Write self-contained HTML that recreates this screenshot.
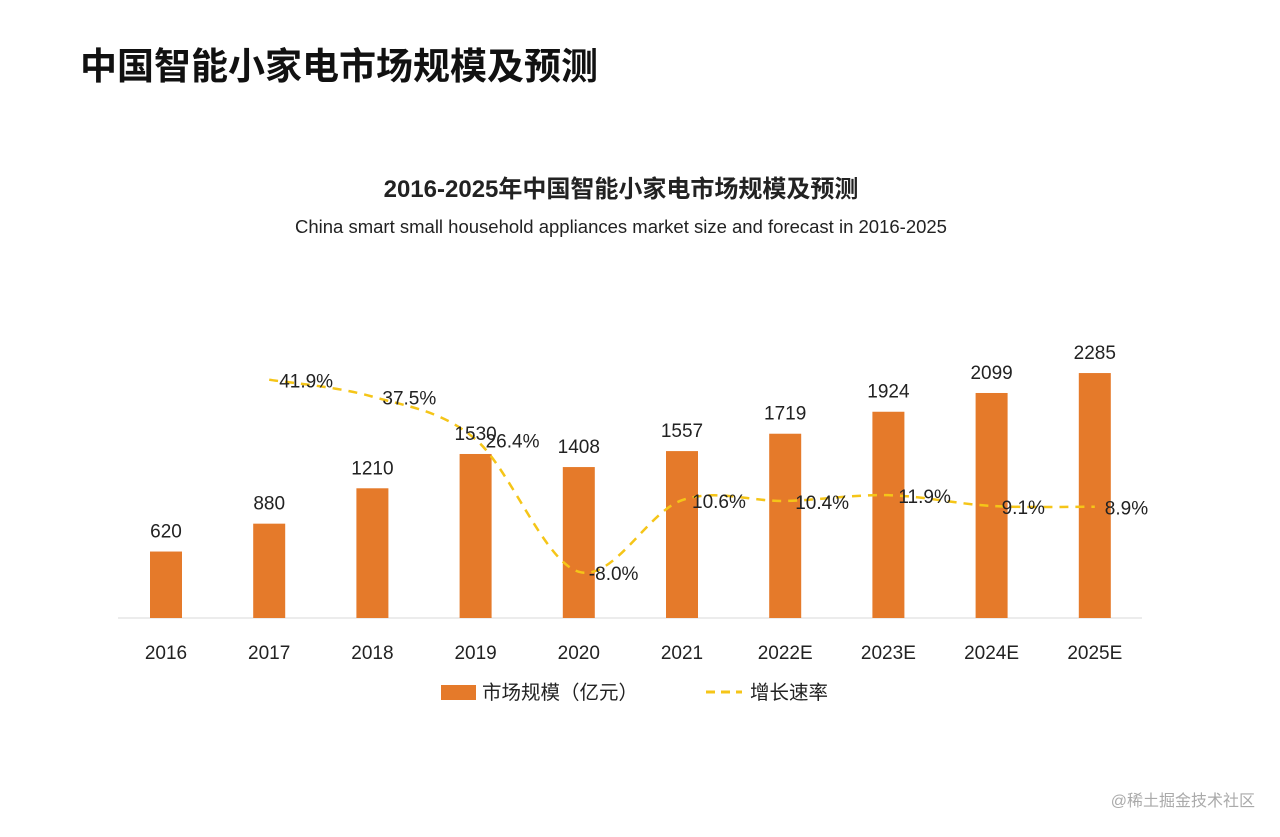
<!DOCTYPE html>
<html><head><meta charset="utf-8"><style>
body{margin:0;background:#fff;width:1280px;height:832px;overflow:hidden;font-family:"Liberation Sans","Noto Sans CJK SC",sans-serif}
</style></head><body>
<svg id="c" width="1280" height="832" xmlns="http://www.w3.org/2000/svg">
<text x="80" y="79" font-size="37" font-weight="bold" fill="#111" font-family="Liberation Sans, Noto Sans CJK SC, sans-serif">中国智能小家电市场规模及预测</text>
<text x="621" y="197" font-size="24" font-weight="bold" text-anchor="middle" fill="#222" font-family="Liberation Sans, Noto Sans CJK SC, sans-serif">2016-2025年中国智能小家电市场规模及预测</text>
<text x="621" y="233" font-size="18.5" text-anchor="middle" fill="#222">China smart small household appliances market size and forecast in 2016-2025</text>
<line x1="118" y1="618" x2="1142" y2="618" stroke="#d9d9d9"/>
<g id="bars"></g><g id="line"></g><g id="labels"></g>
<rect x="441" y="685" width="35" height="15" fill="#e57a2a"/>
<text x="482" y="699" font-size="19.5" fill="#222" font-family="Liberation Sans, Noto Sans CJK SC, sans-serif">市场规模（亿元）</text>
<line x1="706" y1="692" x2="742" y2="692" stroke="#f5c518" stroke-width="3" stroke-dasharray="9,6"/>
<text x="750" y="699" font-size="19.5" fill="#222" font-family="Liberation Sans, Noto Sans CJK SC, sans-serif">增长速率</text>
<text x="1255" y="806" font-size="16" text-anchor="end" fill="#aaa" font-family="Liberation Sans, Noto Sans CJK SC, sans-serif">@稀土掘金技术社区</text>
</svg>
<script>
const categories=["2016","2017","2018","2019","2020","2021","2022E","2023E","2024E","2025E"];
const marketSize=[620,880,1210,1530,1408,1557,1719,1924,2099,2285];
const growthRate=[null,41.9,37.5,26.4,-8.0,10.6,10.4,11.9,9.1,8.9];
const growthLabels=["","41.9%","37.5%","26.4%","-8.0%","10.6%","10.4%","11.9%","9.1%","8.9%"];
const NS="http://www.w3.org/2000/svg";
const xc=i=>166+i*103.2;
const yBar=v=>618-v*0.1072;
const yLine=v=>541-v*3.85;
function mk(t,a,p){const e=document.createElementNS(NS,t);for(const k in a)e.setAttribute(k,a[k]);p.appendChild(e);return e;}
const bars=document.getElementById('bars'),line=document.getElementById('line'),labels=document.getElementById('labels');
categories.forEach((c,i)=>{
 const r=mk('rect',{x:xc(i)-16,y:yBar(marketSize[i]),width:32,height:618-yBar(marketSize[i]),fill:'#e57a2a'},bars);
 
 
 const t=mk('text',{x:xc(i),y:yBar(marketSize[i])-14,'font-size':19,'text-anchor':'middle',fill:'#222'},labels);
 t.textContent=marketSize[i];
 
 
 const xt=mk('text',{x:xc(i),y:659,'font-size':19,'text-anchor':'middle',fill:'#222'},labels);
 xt.textContent=c;
 
 
});
const pts=[];growthRate.forEach((g,i)=>{if(g!==null)pts.push([xc(i),yLine(g),i]);});
let d='M'+pts[0][0]+','+pts[0][1];
for(let k=0;k<pts.length-1;k++){
 const p0=pts[Math.max(k-1,0)],p1=pts[k],p2=pts[k+1],p3=pts[Math.min(k+2,pts.length-1)];
 const c1x=p1[0]+(p2[0]-p0[0])/6,c1y=p1[1]+(p2[1]-p0[1])/6,c2x=p2[0]-(p3[0]-p1[0])/6,c2y=p2[1]-(p3[1]-p1[1])/6;
 d+=' C'+c1x+','+c1y+' '+c2x+','+c2y+' '+p2[0]+','+p2[1];
}
const path=mk('path',{d:d,fill:'none',stroke:'#f5c518','stroke-width':2.5,'stroke-dasharray':'9,7'},line);


pts.forEach(p=>{
 const t=mk('text',{x:p[0]+10,y:p[1]+8,'font-size':19,fill:'#222'},labels);
 t.textContent=growthLabels[p[2]];
 
 
});
</script>
</body></html>
